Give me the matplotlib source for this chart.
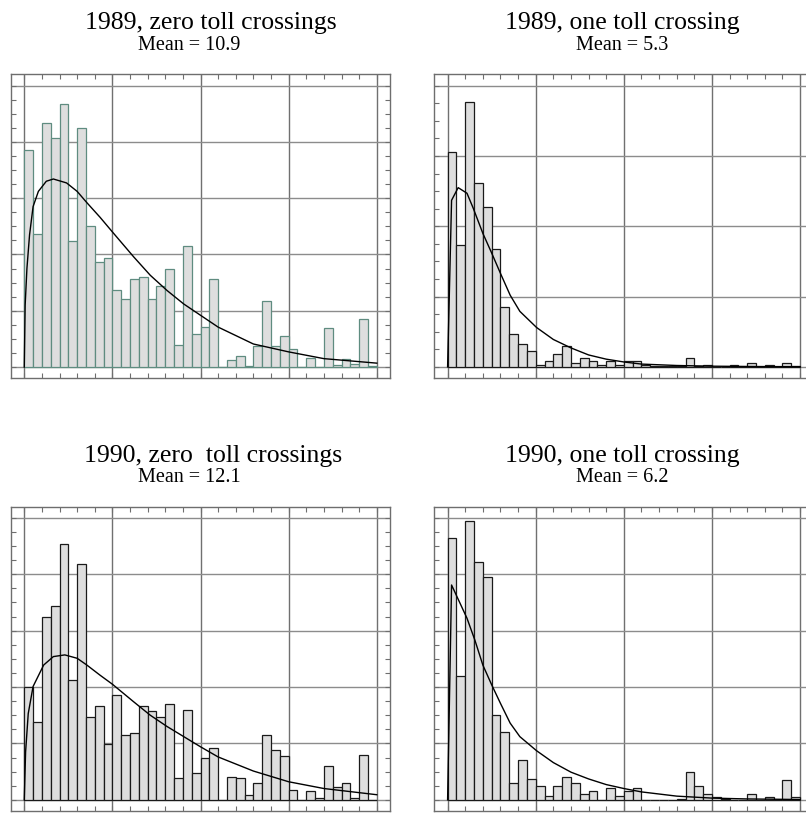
import numpy as np
import matplotlib
matplotlib.use("Agg")
import matplotlib.pyplot as plt

# bin index (one bin per unit, 40 bins)
bins = np.arange(40)

# bar heights, in grid units
zero_1989 = [3.86, 2.37, 4.34, 4.07, 4.67, 2.24, 4.24, 2.50, 1.86, 1.94,
             1.37, 1.21, 1.57, 1.60, 1.21, 1.44, 1.75, 0.40, 2.15, 0.59,
             0.72, 1.57, 0.00, 0.13, 0.20, 0.02, 0.38, 1.18, 0.38, 0.55,
             0.33, 0.00, 0.17, 0.00, 0.70, 0.04, 0.15, 0.05, 0.85, 0.02]
one_1989 = [3.05, 1.73, 3.77, 2.62, 2.27, 1.67, 0.85, 0.47, 0.32, 0.22,
            0.02, 0.09, 0.19, 0.30, 0.05, 0.13, 0.09, 0.02, 0.08, 0.03,
            0.09, 0.09, 0.02, 0.01, 0.01, 0.01, 0.01, 0.13, 0.01, 0.02,
            0.00, 0.00, 0.02, 0.00, 0.05, 0.00, 0.02, 0.00, 0.05, 0.01]
zero_1990 = [2.00, 1.38, 3.25, 3.43, 4.53, 2.12, 4.18, 1.46, 1.67, 0.99,
             1.85, 1.15, 1.18, 1.67, 1.58, 1.46, 1.70, 0.38, 1.60, 0.48,
             0.75, 0.91, 0.00, 0.41, 0.38, 0.08, 0.30, 1.15, 0.88, 0.78,
             0.18, 0.00, 0.15, 0.04, 0.60, 0.23, 0.30, 0.04, 0.80, 0.00]
one_1990 = [4.65, 2.20, 4.95, 4.21, 3.95, 1.50, 1.20, 0.30, 0.70, 0.36,
            0.25, 0.06, 0.25, 0.40, 0.30, 0.11, 0.15, 0.00, 0.21, 0.06,
            0.16, 0.21, 0.00, 0.00, 0.00, 0.00, 0.01, 0.50, 0.25, 0.10,
            0.05, 0.01, 0.00, 0.00, 0.10, 0.00, 0.05, 0.00, 0.35, 0.05]

# fitted curves, points
fit_x_z89 = [0, 0.1, 0.3, 0.6, 1.0, 1.6, 2.5, 3.3, 4.8, 6.0, 7.1, 8.6, 10.0,
             12.4, 14.3, 16.2, 18.1, 20.0, 22.0, 26.0, 30.0, 34.0, 40.0]
fit_y_z89 = [0, 1.1, 1.75, 2.35, 2.85, 3.12, 3.30, 3.34, 3.27, 3.12, 2.92, 2.66, 2.40,
             1.96, 1.63, 1.36, 1.12, 0.92, 0.71, 0.41, 0.27, 0.15, 0.07]
fit_x_o89 = [0, 0.45, 1.2, 2.2, 2.9, 4.0, 5.0, 6.0, 7.1, 8.2, 10.1, 12.0, 14.0,
             16.0, 18.0, 20.0, 22.0, 26.0, 30.0, 35.0, 40.0]
fit_y_o89 = [0, 2.37, 2.55, 2.47, 2.26, 1.90, 1.62, 1.33, 1.02, 0.79, 0.56, 0.39, 0.27,
             0.17, 0.11, 0.07, 0.04, 0.02, 0.01, 0.005, 0.003]
fit_x_z90 = [0, 0.15, 0.45, 1.0, 2.2, 3.3, 4.6, 6.0, 7.1, 8.6, 10.0, 12.4, 14.3,
             16.2, 18.1, 20.0, 22.0, 26.0, 30.0, 34.0, 40.0]
fit_y_z90 = [0, 0.85, 1.53, 2.01, 2.39, 2.54, 2.57, 2.51, 2.39, 2.21, 2.05, 1.74, 1.50,
             1.30, 1.12, 0.94, 0.76, 0.51, 0.32, 0.20, 0.09]
fit_x_o90 = [0, 0.45, 1.4, 2.2, 3.1, 4.0, 5.0, 6.0, 7.1, 8.2, 10.1, 12.0, 14.0,
             16.0, 18.0, 20.0, 22.0, 26.0, 30.0, 34.0, 40.0]
fit_y_o90 = [0, 3.81, 3.49, 3.22, 2.83, 2.39, 2.04, 1.71, 1.36, 1.12, 0.87, 0.66, 0.49,
             0.37, 0.27, 0.20, 0.14, 0.065, 0.03, 0.015, 0.005]

titles = ["1989, zero toll crossings", "1989, one toll crossing",
          "1990, zero  toll crossings", "1990, one toll crossing"]
means = ["Mean = 10.9", "Mean = 5.3", "Mean = 12.1", "Mean = 6.2"]

BAR_FILL = "#dedede"
FRAME = "#6e6e6e"

plt.rcParams["font.family"] = ["Liberation Serif", "DejaVu Serif"]

fig = plt.figure(figsize=(8.06, 8.13), dpi=100)


def draw_panel(rect, counts, edge, ntop, fx, fy):
    ax = fig.add_axes(rect)
    ax.set_axisbelow(True)
    ax.bar(bins, counts, width=1, align="edge", color=BAR_FILL,
           edgecolor=edge, linewidth=0.9)
    ax.plot(fx, fy, color="black", lw=1.0)
    ax.set_xlim(-1.54, 41.54)
    pad = 11.2 / (rect[3] * 813) * (ntop + 0.4)  # ~11 px margin above/below
    ax.set_ylim(-pad, ntop + pad)
    ax.set_xticks(range(0, 41, 10))
    ax.set_xticks(np.arange(0, 41, 2), minor=True)
    ax.set_yticks(range(0, ntop + 1))
    ax.set_yticks(np.arange(0, ntop + 0.01, 0.25), minor=True)
    ax.xaxis.grid(True, which="major", color="#707070", lw=1.0)
    ax.yaxis.grid(True, which="major", color="#8c8c8c", lw=1.0)
    ax.tick_params(which="both", direction="in", top=True, right=True,
                   labelleft=False, labelbottom=False, length=3.5,
                   width=0.8, color=FRAME)
    for s in ax.spines.values():
        s.set_color(FRAME)
        s.set_linewidth(1.0)
    return ax


draw_panel([0.01328, 0.5347, 0.4710, 0.3739], zero_1989, "#5f8c80", 5, fit_x_z89, fit_y_z89)
draw_panel([0.5385, 0.5347, 0.4710, 0.3739], one_1989, "#1a1a1a", 4, fit_x_o89, fit_y_o89)
draw_panel([0.01328, 0.00246, 0.4710, 0.3743], zero_1990, "#1a1a1a", 5, fit_x_z90, fit_y_z90)
draw_panel([0.5385, 0.00246, 0.4710, 0.3743], one_1990, "#1a1a1a", 5, fit_x_o90, fit_y_o90)

title_x = [0.2615, 0.7717, 0.2640, 0.7717]
mean_x = [0.2345, 0.7717, 0.2345, 0.7717]
title_y = [0.964, 0.964, 0.4321, 0.4321]
mean_y = [0.9385, 0.9385, 0.4066, 0.4066]
for i in range(4):
    fig.text(title_x[i], title_y[i], titles[i], ha="center", va="baseline", fontsize=18.5)
    fig.text(mean_x[i], mean_y[i], means[i], ha="center", va="baseline", fontsize=14.5)

fig.savefig("out.png", dpi=100)
